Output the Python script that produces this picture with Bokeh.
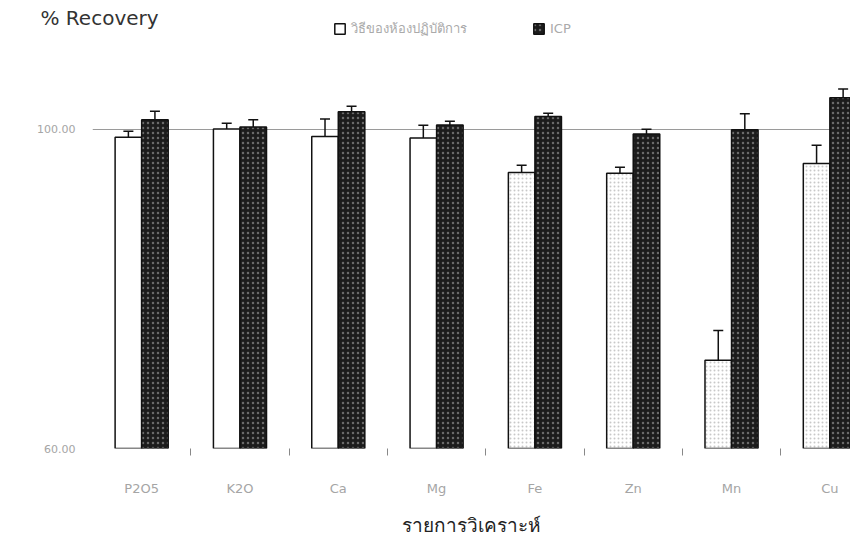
from bokeh.plotting import figure
from bokeh.models import (ColumnDataSource, FixedTicker, PrintfTickFormatter, Whisker,
                          TeeHead, Legend, LegendItem, Title, Range1d)
from bokeh.embed import file_html
from bokeh.resources import INLINE

categories = ["P2O5", "K2O", "Ca", "Mg", "Fe", "Zn", "Mn", "Cu"]
lab_values = [99.0, 100.05, 99.1, 98.9, 94.6, 94.5, 71.05, 95.7]
lab_errors = [0.75, 0.7, 2.2, 1.6, 0.9, 0.75, 3.75, 2.3]
icp_values = [101.2, 100.3, 102.2, 100.55, 101.6, 99.4, 99.95, 103.95]
icp_errors = [1.05, 0.9, 0.7, 0.45, 0.4, 0.6, 2.0, 1.1]
y_ticks = [60, 100]
series_names = ["วิธีของห้องปฏิบัติการ", "ICP"]

bw = 0.27
centers = [i + 0.5 for i in range(len(categories))]
lab_x = [c - bw / 2 for c in centers]
icp_x = [c + bw / 2 for c in centers]
lab_hatch = [" "] * 4 + ["."] * 4

lab_src = ColumnDataSource(dict(x=lab_x, top=lab_values, hatch=lab_hatch,
                                upper=[v + e for v, e in zip(lab_values, lab_errors)],
                                lower=[v - e for v, e in zip(lab_values, lab_errors)]))
icp_src = ColumnDataSource(dict(x=icp_x, top=icp_values,
                                upper=[v + e for v, e in zip(icp_values, icp_errors)],
                                lower=[v - e for v, e in zip(icp_values, icp_errors)]))

p = figure(width=850, height=545, output_backend="svg", toolbar_location=None,
           x_range=Range1d(0, 7.71), y_range=Range1d(60, 114.26),
           min_border_left=92, min_border_right=0, min_border_top=15, min_border_bottom=97)
p.outline_line_color = None
p.background_fill_color = "white"

p.title = Title(text="% Recovery", align="left", offset=-52, standoff=-29,
                padding=dict(left=0, right=0, top=15, bottom=0),
                text_font="DejaVu Sans", text_font_size="20px", text_font_style="normal",
                text_color="#333333")

r_lab = p.vbar(x="x", top="top", bottom=60, width=bw, source=lab_src,
               fill_color="white", line_color="#111111", line_width=1.5,
               hatch_pattern="hatch", hatch_color="#c8c8c8", hatch_scale=4, hatch_weight=1)
r_icp = p.vbar(x="x", top="top", bottom=60, width=bw, source=icp_src,
               fill_color="#1c1c1c", line_color="#111111", line_width=1.5,
               hatch_pattern=".", hatch_color="#6a6a6a", hatch_scale=5, hatch_weight=1)

for src in (lab_src, icp_src):
    w = Whisker(base="x", upper="upper", lower="lower", source=src, dimension="height",
                line_color="#111111", line_width=1.5,
                upper_head=TeeHead(size=10, line_color="#111111", line_width=1.5),
                lower_head=TeeHead(size=10, line_color="#111111", line_width=1.5))
    p.add_layout(w)

# axes
p.xgrid.grid_line_color = None
p.ygrid.ticker = FixedTicker(ticks=[100])
p.ygrid.grid_line_color = "#9a9a9a"
p.ygrid.grid_line_width = 1

p.xaxis.ticker = FixedTicker(ticks=centers, minor_ticks=list(range(1, len(categories))))
p.xaxis.major_label_overrides = {c: lab for c, lab in zip(centers, categories)}
p.xaxis.major_tick_line_color = None
p.xaxis.minor_tick_line_color = "#888888"
p.xaxis.minor_tick_in = 0
p.xaxis.minor_tick_out = 7
p.xaxis.axis_line_color = None
p.xaxis.major_label_text_font = "DejaVu Sans"
p.xaxis.major_label_text_font_size = "13px"
p.xaxis.major_label_text_color = "#a5a5a5"
p.xaxis.major_label_standoff = 25
p.xaxis.axis_label = "รายการวิเคราะห์"
p.xaxis.axis_label_text_font_style = "normal"
p.xaxis.axis_label_text_font_size = "19px"
p.xaxis.axis_label_text_color = "#222222"
p.xaxis.axis_label_standoff = 16

p.yaxis.ticker = FixedTicker(ticks=y_ticks)
p.yaxis.formatter = PrintfTickFormatter(format="%.2f")
p.yaxis.axis_line_color = None
p.yaxis.major_tick_line_color = None
p.yaxis.minor_tick_line_color = None
p.yaxis.major_label_text_font = "DejaVu Sans"
p.yaxis.major_label_text_font_size = "11px"
p.yaxis.major_label_text_color = "#a5a5a5"
p.yaxis.major_label_standoff = 11

legend = Legend(items=[LegendItem(label=series_names[0], renderers=[r_lab]),
                       LegendItem(label=series_names[1], renderers=[r_icp])],
                orientation="horizontal", location=(241, 409),
                background_fill_alpha=0, border_line_color=None,
                label_text_font="DejaVu Sans", label_text_font_size="13px",
                label_text_color="#aaaaaa", glyph_width=13, glyph_height=13,
                spacing=65, padding=4, margin=0)
p.add_layout(legend)

open("out.html", "w").write(file_html(p, INLINE))
